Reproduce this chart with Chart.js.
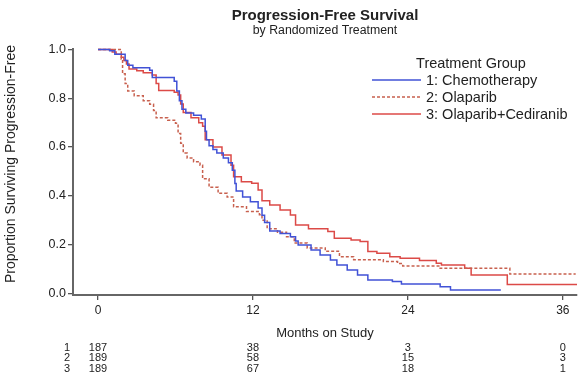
<!DOCTYPE html>
<html>
<head>
<meta charset="utf-8">
<script src="https://cdn.jsdelivr.net/npm/chart.js@4.4.1/dist/chart.umd.min.js"></script>
<style>
  html, body { margin: 0; padding: 0; background: #fff; }
  #c { display: block; }
</style>
</head>
<body>
<canvas id="c" width="586" height="376"></canvas>
<script>
// Kaplan-Meier step data: time of each drop (months) and survival after it
const chemoMonths = [0, 0.9, 1.3, 2.1, 2.3, 2.7, 4.0, 4.2, 5.9, 6.1, 6.3, 6.5, 6.8, 7.4, 8.0, 8.3, 8.4, 8.6, 8.9, 9.2, 9.7, 10.1, 10.4, 10.6, 10.7, 11.2, 11.8, 12.4, 12.7, 12.9, 13.3, 14.1, 14.9, 15.3, 15.5, 16.5, 17.2, 18.0, 18.5, 19.3, 20.1, 20.9, 22.8, 23.5, 26.5, 27.3, 31.2];
const chemoSurv   = [1.0, 0.995, 0.98, 0.955, 0.935, 0.925, 0.915, 0.885, 0.87, 0.83, 0.79, 0.755, 0.74, 0.73, 0.715, 0.665, 0.63, 0.605, 0.59, 0.575, 0.555, 0.535, 0.505, 0.45, 0.42, 0.395, 0.375, 0.35, 0.32, 0.29, 0.255, 0.245, 0.232, 0.215, 0.198, 0.178, 0.157, 0.137, 0.116, 0.096, 0.075, 0.055, 0.048, 0.038, 0.027, 0.014, 0.014];

const olaMonths = [0, 1.8, 1.9, 2.1, 2.3, 2.8, 3.5, 4.0, 4.3, 4.5, 5.4, 6.0, 6.2, 6.4, 6.6, 6.9, 7.4, 7.9, 8.1, 8.6, 9.3, 10.0, 10.5, 11.5, 12.5, 12.7, 13.1, 13.9, 14.6, 15.2, 16.2, 17.6, 18.7, 19.8, 22.1, 23.2, 23.6, 26.5, 31.9, 37.0];
const olaSurv   = [1.0, 0.96, 0.90, 0.86, 0.83, 0.81, 0.79, 0.775, 0.75, 0.72, 0.71, 0.697, 0.655, 0.615, 0.575, 0.555, 0.54, 0.525, 0.47, 0.435, 0.41, 0.395, 0.355, 0.335, 0.322, 0.30, 0.265, 0.25, 0.232, 0.206, 0.186, 0.172, 0.15, 0.138, 0.13, 0.122, 0.112, 0.103, 0.079, 0.079];

const comboMonths = [0, 1.1, 1.4, 1.8, 2.0, 2.2, 2.4, 3.0, 3.5, 4.2, 4.5, 4.7, 5.9, 6.2, 6.4, 6.6, 7.2, 7.8, 8.1, 8.3, 8.9, 9.6, 10.3, 10.5, 11.1, 11.9, 12.4, 12.7, 13.3, 14.1, 14.9, 15.3, 16.3, 17.8, 18.3, 19.6, 20.3, 20.9, 21.6, 22.6, 23.4, 24.9, 26.2, 26.6, 28.4, 28.9, 31.7, 37.1];
const comboSurv   = [1.0, 0.99, 0.98, 0.968, 0.955, 0.94, 0.92, 0.913, 0.905, 0.895, 0.86, 0.832, 0.825, 0.813, 0.776, 0.742, 0.72, 0.70, 0.685, 0.63, 0.60, 0.567, 0.525, 0.478, 0.458, 0.451, 0.424, 0.38, 0.362, 0.342, 0.321, 0.28, 0.265, 0.253, 0.226, 0.219, 0.212, 0.171, 0.164, 0.15, 0.144, 0.134, 0.123, 0.116, 0.103, 0.075, 0.036, 0.036];

// Axis ticks
const xTicks = [0, 12, 24, 36];
const yTicks = [0, 0.2, 0.4, 0.6, 0.8, 1.0];

// Texts
const titleText = 'Progression-Free Survival';
const subtitleText = 'by Randomized Treatment';
const yTitleText = 'Proportion Surviving Progression-Free';
const xTitleText = 'Months on Study';
const legendTitle = 'Treatment Group';
const groupLabels = ['1: Chemotherapy', '2: Olaparib', '3: Olaparib+Cediranib'];

// Numbers at risk
const riskTimes = [0, 12, 24, 36];
const riskRowLabels = ['1', '2', '3'];
const riskChemo = [187, 38, 3, 0];
const riskOla = [189, 58, 15, 3];
const riskCombo = [189, 67, 18, 1];

const colors = ['#4152d6', '#c8604e', '#dc4a47'];
const dashes = [[], [3, 2], []];
const FONT = '"Liberation Sans", Arial, sans-serif';
const TEXT = '#222';

function toPoints(xs, ys) { return xs.map((x, i) => ({ x: x, y: ys[i] })); }

const series = [
  toPoints(chemoMonths, chemoSurv),
  toPoints(olaMonths, olaSurv),
  toPoints(comboMonths, comboSurv)
];

const decorPlugin = {
  id: 'decor',
  afterDraw(chart) {
    const ctx = chart.ctx;
    const area = chart.chartArea;
    const xs = chart.scales.x;
    const cx = (area.left + area.right) / 2;
    ctx.save();
    ctx.fillStyle = TEXT;
    ctx.textAlign = 'center';
    ctx.textBaseline = 'middle';

    ctx.font = 'bold 15px ' + FONT;
    ctx.fillText(titleText, cx, 16);
    ctx.font = '12.3px ' + FONT;
    ctx.fillText(subtitleText, cx, 31);

    // vertical axis title
    ctx.save();
    ctx.translate(11, 164);
    ctx.rotate(-Math.PI / 2);
    ctx.font = '14px ' + FONT;
    ctx.fillText(yTitleText, 0, 0);
    ctx.restore();

    ctx.font = '13px ' + FONT;
    ctx.fillText(xTitleText, cx, 333);

    // numbers at risk
    ctx.font = '11px "Liberation Sans Narrow", ' + FONT;
    const rows = [riskChemo, riskOla, riskCombo];
    rows.forEach((row, r) => {
      const y = 347.5 + r * 10.5;
      ctx.fillText(riskRowLabels[r], 67, y);
      row.forEach((n, i) => {
        ctx.fillText(String(n), xs.getPixelForValue(riskTimes[i]), y);
      });
    });

    // legend
    ctx.font = '14.5px ' + FONT;
    ctx.fillText(legendTitle, 471, 64);
    ctx.textAlign = 'left';
    groupLabels.forEach((lab, i) => {
      const y = 80 + i * 17;
      ctx.strokeStyle = colors[i];
      ctx.lineWidth = 1.5;
      ctx.setLineDash(dashes[i]);
      ctx.beginPath();
      ctx.moveTo(372, y);
      ctx.lineTo(421, y);
      ctx.stroke();
      ctx.setLineDash([]);
      ctx.fillText(lab, 426, y + 1);
    });
    ctx.restore();
  }
};

new Chart(document.getElementById('c'), {
  type: 'line',
  data: {
    datasets: series.map((pts, i) => ({
      label: groupLabels[i],
      data: pts,
      borderColor: colors[i],
      borderWidth: 1.5,
      borderDash: dashes[i],
      stepped: true,
      pointRadius: 0,
      fill: false,
      clip: 4
    }))
  },
  options: {
    responsive: false,
    animation: false,
    devicePixelRatio: 1,
    layout: { padding: { left: 0, right: 9, top: 49, bottom: 0 } },
    plugins: { legend: { display: false }, title: { display: false }, tooltip: { enabled: false } },
    scales: {
      x: {
        type: 'linear',
        min: -1.94,
        max: 37.1,
        afterBuildTicks: s => { s.ticks = xTicks.map(v => ({ value: v })); },
        afterFit: s => { s.height = 81; },
        grid: { drawOnChartArea: false, drawTicks: true, tickLength: 5, color: '#555', lineWidth: 1.3 },
        border: { display: true, color: '#666', width: 2 },
        ticks: { color: TEXT, font: { family: FONT, size: 12 }, padding: 3, maxRotation: 0 }
      },
      y: {
        type: 'linear',
        min: -0.007,
        max: 1.002,
        afterBuildTicks: s => { s.ticks = yTicks.map(v => ({ value: v })); },
        afterFit: s => { s.width = 73; },
        grid: { drawOnChartArea: false, drawTicks: true, tickLength: 5, color: '#555', lineWidth: 1.3 },
        border: { display: true, color: '#666', width: 2 },
        ticks: { color: TEXT, font: { family: FONT, size: 12.5 }, padding: 2, callback: v => v.toFixed(1) }
      }
    }
  },
  plugins: [decorPlugin]
});
</script>
</body>
</html>
